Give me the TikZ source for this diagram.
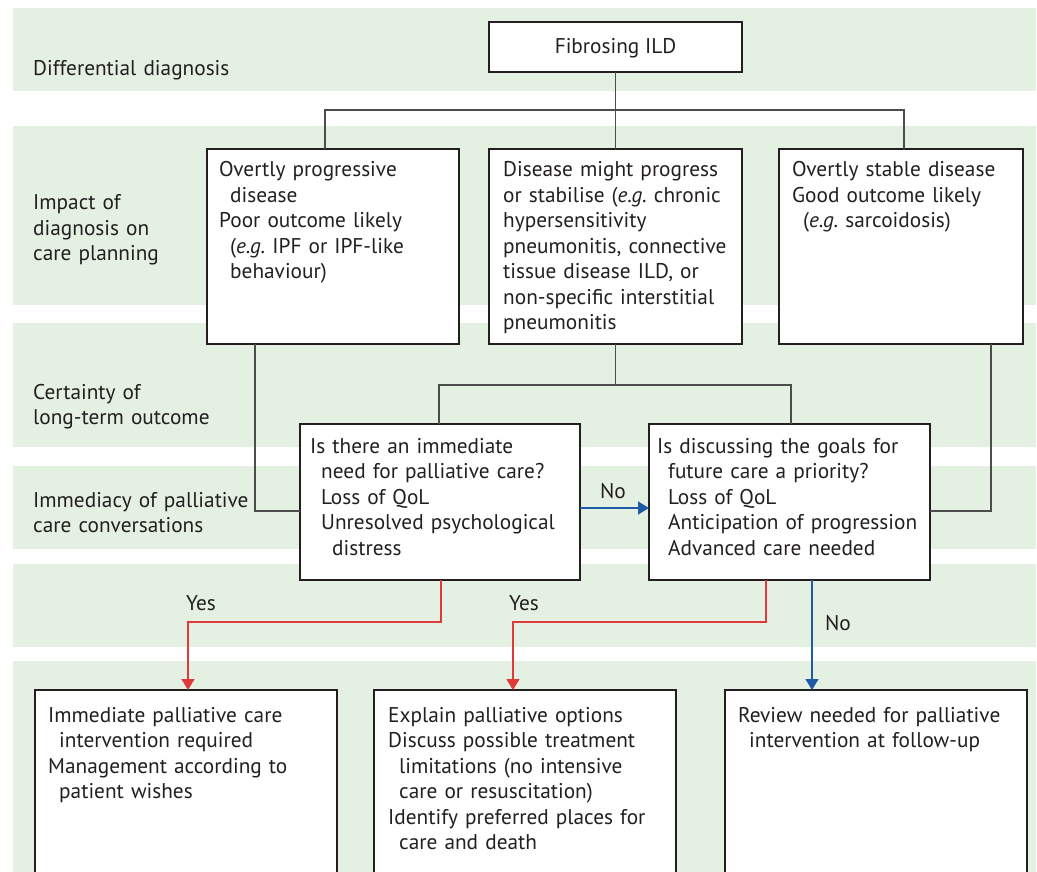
\documentclass[tikz,border=0pt]{standalone}
\usepackage{fontspec}
\setmainfont{PT Sans}
\usetikzlibrary{arrows.meta}
\definecolor{bandc}{HTML}{E4F0E1}
\definecolor{ink}{HTML}{231F20}
\definecolor{lineg}{HTML}{4D4D4D}
\definecolor{redl}{HTML}{E0393A}
\definecolor{bluel}{HTML}{1F5AA6}
\newcommand{\ind}{\hspace*{11pt}}
\frenchspacing
\begin{document}
\begin{tikzpicture}[x=1pt,y=-1pt,
  font=\fontsize{21.3}{25.5}\selectfont, text=ink,
  bandbox/.style={fill=bandc,draw=none},
  box/.style={draw=ink,line width=1.4pt,fill=white,anchor=north west,inner sep=0pt,outer sep=0pt},
  txt/.style={anchor=base west,inner sep=0pt,align=left,text width=330pt},
  lbl/.style={inner sep=0pt},
  conn/.style={draw=lineg,line width=1.3pt},
  redarr/.style={draw=redl,line width=1.3pt,-{Triangle[width=13pt,length=11pt]}},
  bluearr/.style={draw=bluel,line width=1.3pt,-{Triangle[width=13pt,length=11pt]}}]
\useasboundingbox (0,0) rectangle (1037,872);
\clip (0,0) rectangle (1037,872);
\fill[white] (0,0) rectangle (1037,872);
% bands
\path[bandbox] (13,8) rectangle (1036,91);
\path[bandbox] (13,126) rectangle (1036,305);
\path[bandbox] (13,323) rectangle (1036,447);
\path[bandbox] (13,466) rectangle (1036,549);
\path[bandbox] (13,564) rectangle (1036,647);
\path[bandbox] (13,661) rectangle (1036,880);
% row labels
\node[txt] (l1) at (33,76) {Differential diagnosis};
\node[txt] (l2) at (33,210) {Impact of\\diagnosis on\\care planning};
\node[txt] (l3) at (33,399) {Certainty of\\long-term outcome};
\node[txt] (l4) at (33,507) {Immediacy of palliative\\care conversations};
% boxes
\node[box,minimum width=253pt,minimum height=50pt] (ild) at (489,22) {};
\node[anchor=base,inner sep=0pt] (ildt) at (615.5,54) {Fibrosing ILD};
\node[box,minimum width=252pt,minimum height=195pt] (A) at (207,149) {};
\node[box,minimum width=253pt,minimum height=195pt] (B) at (489,149) {};
\node[box,minimum width=244pt,minimum height=195pt] (C) at (779,149) {};
\node[box,minimum width=280pt,minimum height=156pt] (D) at (300,424) {};
\node[box,minimum width=281pt,minimum height=156pt] (E) at (649,424) {};
\node[box,minimum width=302pt,minimum height=220pt] (F) at (35,690) {};
\node[box,minimum width=302pt,minimum height=220pt] (G) at (374,690) {};
\node[box,minimum width=302pt,minimum height=220pt] (H) at (725,690) {};
% box texts
\node[txt] (At) at (219,177) {Overtly progressive\\\ind disease\\Poor outcome likely\\\ind(\textit{e.g.} IPF or IPF-like\\\ind behaviour)};
\node[txt] (Bt) at (503,177) {Disease might progress\\or stabilise (\textit{e.g.} chronic\\hypersensitivity\\pneumonitis, connective\\tissue disease ILD, or\\non-specific interstitial\\pneumonitis};
\node[txt] (Ct) at (792,177) {Overtly stable disease\\Good outcome likely\\\ind(\textit{e.g.} sarcoidosis)};
\node[txt] (Dt) at (310,453) {Is there an immediate\\\ind need for palliative care?\\\ind Loss of QoL\\\ind Unresolved psychological\\\ind\ind distress};
\node[txt] (Et) at (657,453) {Is discussing the goals for\\\ind future care a priority?\\\ind Loss of QoL\\\ind Anticipation of progression\\\ind Advanced care needed};
\node[txt] (Ft) at (48,722) {Immediate palliative care\\\ind intervention required\\Management according to\\\ind patient wishes};
\node[txt] (Gt) at (388,722) {Explain palliative options\\Discuss possible treatment\\\ind limitations (no intensive\\\ind care or resuscitation)\\Identify preferred places for\\\ind care and death};
\node[txt] (Ht) at (738,722) {Review needed for palliative\\\ind intervention at follow-up};
% connectors
\draw[conn] (ild.south) -- (B.north);
\draw[conn] (325,0 |- A.north) -- (325,110) -- (904,110) -- (904,0 |- C.north);
\draw[conn] (255,0 |- A.south) -- (255,511) -- (D.west |- 0,511);
\draw[conn] (B.south) -- (B.south |- 0,385);
\draw[conn] (439,0 |- D.north) -- (439,385) -- (791,385) -- (791,0 |- E.north);
\draw[conn] (991,0 |- C.south) -- (991,511) -- (E.east |- 0,511);
\draw[bluearr] (D.east |- 0,508) -- (E.west |- 0,508);
\draw[redarr] (441,0 |- D.south) -- (441,622) -- (188,622) -- (188,0 |- F.north);
\draw[redarr] (766,0 |- E.south) -- (766,622) -- (513,622) -- (513,0 |- G.north);
\draw[bluearr] (812,0 |- E.south) -- (812,0 |- H.north);
% labels
\node[lbl] (no1) at (613,491) {No};
\node[lbl] (yes1) at (201,603) {Yes};
\node[lbl] (yes2) at (524,603) {Yes};
\node[lbl] (no2) at (838,623) {No};
\end{tikzpicture}
\end{document}
